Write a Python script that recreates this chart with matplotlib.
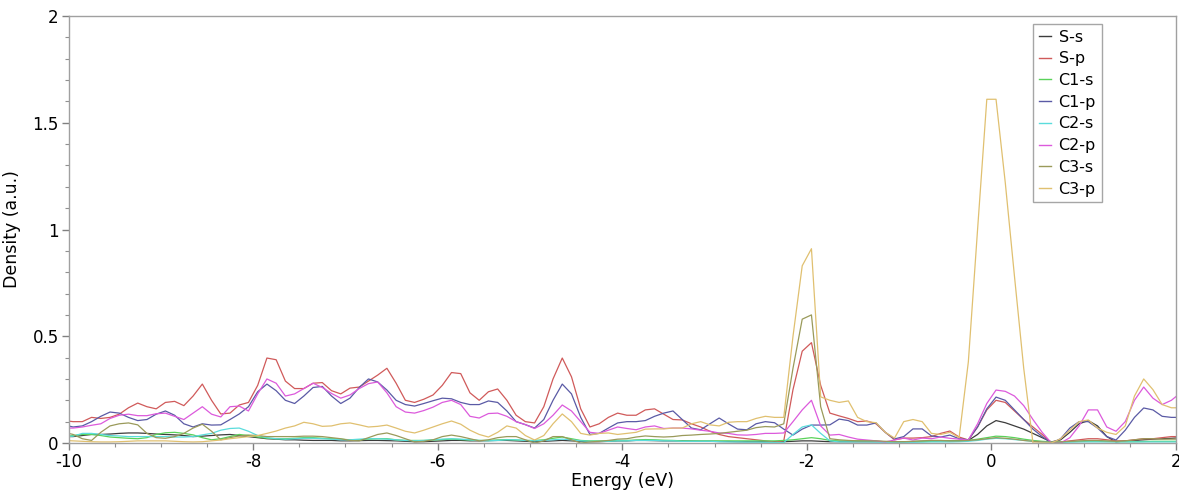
import numpy as np
import matplotlib
matplotlib.use("Agg")
import matplotlib.pyplot as plt
from matplotlib.ticker import MultipleLocator

# ---- data (energy grid: -10.05 .. 2.05 eV, step 0.1) ----
E_START, E_STEP, N_PTS = -10.05, 0.1, 122
energy = np.round(E_START + E_STEP * np.arange(N_PTS), 3)

s_s = [0.03, 0.03, 0.035, 0.04, 0.04, 0.042, 0.045, 0.047, 0.047, 0.045,
       0.042, 0.04, 0.038, 0.035, 0.03, 0.032, 0.035, 0.038, 0.04, 0.035,
       0.03, 0.025, 0.02, 0.018, 0.015, 0.015, 0.013, 0.012, 0.012, 0.012,
       0.01, 0.01, 0.011, 0.012, 0.012, 0.011, 0.01, 0.008, 0.006, 0.006,
       0.008, 0.01, 0.012, 0.012, 0.01, 0.01, 0.011, 0.012, 0.012, 0.01,
       0.008, 0.006, 0.008, 0.01, 0.012, 0.01, 0.008, 0.006, 0.006, 0.008,
       0.01, 0.01, 0.012, 0.012, 0.011, 0.01, 0.01, 0.01, 0.009, 0.008,
       0.008, 0.007, 0.007, 0.006, 0.006, 0.006, 0.006, 0.006, 0.006, 0.008,
       0.01, 0.01, 0.008, 0.006, 0.006, 0.006, 0.006, 0.006, 0.006, 0.006,
       0.006, 0.006, 0.007, 0.008, 0.009, 0.01, 0.01, 0.01, 0.012, 0.04,
       0.08, 0.105, 0.095, 0.08, 0.065, 0.045, 0.025, 0.005, 0.015, 0.05,
       0.09, 0.105, 0.08, 0.03, 0.005, 0.01, 0.012, 0.015, 0.018, 0.02,
       0.022, 0.025]

s_p = [0.105, 0.10, 0.10, 0.12, 0.115, 0.12, 0.135, 0.165, 0.187, 0.17,
       0.16, 0.19, 0.195, 0.175, 0.22, 0.276, 0.2, 0.136, 0.14, 0.178,
       0.19, 0.27, 0.398, 0.39, 0.29, 0.255, 0.255, 0.28, 0.283, 0.245,
       0.23, 0.257, 0.262, 0.29, 0.318, 0.35, 0.28, 0.2, 0.19, 0.205,
       0.225, 0.27, 0.33, 0.325, 0.235, 0.2, 0.24, 0.253, 0.2, 0.13,
       0.1, 0.094, 0.17, 0.30, 0.398, 0.31, 0.16, 0.075, 0.09, 0.12,
       0.14, 0.13, 0.13, 0.155, 0.16, 0.135, 0.11, 0.108, 0.09, 0.075,
       0.055, 0.04, 0.03, 0.025, 0.02, 0.015, 0.01, 0.005, 0.01, 0.25,
       0.43, 0.47, 0.27, 0.14, 0.127, 0.115, 0.10, 0.103, 0.09, 0.05,
       0.015, 0.023, 0.023, 0.025, 0.03, 0.045, 0.056, 0.028, 0.014, 0.075,
       0.155, 0.2, 0.19, 0.15, 0.11, 0.075, 0.04, 0.0, 0.005, 0.01,
       0.015, 0.02, 0.02, 0.015, 0.01, 0.01, 0.015, 0.02, 0.02, 0.025,
       0.03, 0.03]

c1_s = [0.03, 0.035, 0.04, 0.04, 0.035, 0.028, 0.025, 0.022, 0.02, 0.025,
        0.04, 0.048, 0.05, 0.045, 0.038, 0.025, 0.015, 0.02, 0.03, 0.04,
        0.035, 0.028, 0.022, 0.02, 0.02, 0.022, 0.025, 0.025, 0.022, 0.02,
        0.018, 0.015, 0.015, 0.018, 0.02, 0.02, 0.015, 0.012, 0.012, 0.012,
        0.014, 0.016, 0.018, 0.016, 0.014, 0.012, 0.012, 0.014, 0.016, 0.014,
        0.012, 0.012, 0.015, 0.022, 0.028, 0.02, 0.012, 0.01, 0.01, 0.01,
        0.012, 0.012, 0.014, 0.016, 0.015, 0.013, 0.012, 0.01, 0.01, 0.01,
        0.01, 0.01, 0.01, 0.01, 0.01, 0.01, 0.01, 0.01, 0.012, 0.015,
        0.02, 0.025, 0.02, 0.012, 0.01, 0.01, 0.01, 0.01, 0.008, 0.006,
        0.005, 0.005, 0.006, 0.007, 0.008, 0.01, 0.01, 0.01, 0.012, 0.018,
        0.025, 0.032, 0.03, 0.025, 0.018, 0.012, 0.008, 0.005, 0.005, 0.006,
        0.007, 0.008, 0.008, 0.007, 0.006, 0.006, 0.006, 0.007, 0.008, 0.008,
        0.008, 0.008]

c1_p = [0.085, 0.075, 0.08, 0.1, 0.125, 0.145, 0.14, 0.12, 0.105, 0.11,
        0.135, 0.15, 0.13, 0.09, 0.075, 0.09, 0.084, 0.085, 0.11, 0.136,
        0.17, 0.24, 0.276, 0.245, 0.2, 0.185, 0.22, 0.26, 0.265, 0.22,
        0.185, 0.21, 0.26, 0.3, 0.286, 0.248, 0.2, 0.18, 0.173, 0.185,
        0.198, 0.21, 0.207, 0.19, 0.18, 0.18, 0.197, 0.19, 0.15, 0.1,
        0.086, 0.07, 0.11, 0.2, 0.276, 0.23, 0.12, 0.04, 0.045, 0.07,
        0.094, 0.1, 0.1, 0.105, 0.125, 0.14, 0.15, 0.11, 0.07, 0.062,
        0.09, 0.117, 0.09, 0.065, 0.062, 0.09, 0.1, 0.095, 0.065, 0.037,
        0.065, 0.084, 0.084, 0.085, 0.112, 0.105, 0.084, 0.084, 0.094, 0.05,
        0.019, 0.03, 0.066, 0.066, 0.033, 0.028, 0.037, 0.02, 0.015, 0.075,
        0.16, 0.215, 0.2, 0.155, 0.11, 0.065, 0.03, 0.0, 0.02, 0.07,
        0.1, 0.1, 0.07, 0.03, 0.014, 0.06, 0.12, 0.164, 0.155, 0.125,
        0.12, 0.12]

c2_s = [0.03, 0.032, 0.045, 0.045, 0.04, 0.035, 0.033, 0.03, 0.03, 0.03,
        0.03, 0.03, 0.028, 0.028, 0.03, 0.038, 0.045, 0.06, 0.068, 0.07,
        0.055, 0.035, 0.025, 0.02, 0.018, 0.02, 0.022, 0.022, 0.02, 0.018,
        0.015, 0.015, 0.018, 0.02, 0.02, 0.018, 0.015, 0.012, 0.01, 0.012,
        0.015, 0.018, 0.02, 0.018, 0.015, 0.012, 0.01, 0.012, 0.015, 0.015,
        0.012, 0.01, 0.012, 0.015, 0.018, 0.015, 0.01, 0.008, 0.008, 0.008,
        0.01, 0.01, 0.012, 0.012, 0.012, 0.01, 0.01, 0.008, 0.008, 0.008,
        0.008, 0.006, 0.005, 0.005, 0.004, 0.004, 0.003, 0.002, 0.002, 0.04,
        0.075, 0.085, 0.045, 0.01, 0.005, 0.005, 0.005, 0.005, 0.004, 0.003,
        0.003, 0.003, 0.003, 0.004, 0.005, 0.005, 0.005, 0.006, 0.008, 0.012,
        0.018, 0.022, 0.02, 0.016, 0.012, 0.008, 0.005, 0.003, 0.003, 0.004,
        0.005, 0.005, 0.005, 0.005, 0.005, 0.005, 0.005, 0.005, 0.005, 0.005,
        0.005, 0.005]

c2_p = [0.07, 0.07, 0.075, 0.083, 0.09, 0.115, 0.13, 0.135, 0.128, 0.128,
        0.137, 0.14, 0.125, 0.11, 0.14, 0.17, 0.135, 0.122, 0.17, 0.173,
        0.15, 0.23, 0.3, 0.28, 0.22, 0.23, 0.255, 0.28, 0.26, 0.232,
        0.21, 0.225, 0.255, 0.278, 0.286, 0.235, 0.17, 0.145, 0.14, 0.152,
        0.168, 0.19, 0.2, 0.18, 0.125, 0.117, 0.138, 0.14, 0.125, 0.1,
        0.086, 0.068, 0.09, 0.13, 0.178, 0.15, 0.1, 0.05, 0.045, 0.06,
        0.075, 0.068, 0.062, 0.075, 0.08, 0.068, 0.07, 0.07, 0.066, 0.06,
        0.055, 0.047, 0.045, 0.038, 0.037, 0.04, 0.045, 0.045, 0.047, 0.1,
        0.155, 0.2, 0.08, 0.037, 0.04, 0.028, 0.018, 0.014, 0.01, 0.005,
        0.014, 0.023, 0.014, 0.023, 0.02, 0.028, 0.022, 0.018, 0.014, 0.09,
        0.185, 0.248, 0.242, 0.22, 0.175, 0.11, 0.05, 0.0, 0.0, 0.025,
        0.08, 0.155, 0.155, 0.075, 0.055, 0.1, 0.2, 0.262, 0.21, 0.18,
        0.2, 0.235]

c3_s = [0.05, 0.04, 0.02, 0.012, 0.05, 0.08, 0.09, 0.094, 0.085, 0.045,
        0.025, 0.022, 0.03, 0.045, 0.07, 0.088, 0.055, 0.015, 0.025, 0.033,
        0.037, 0.035, 0.03, 0.03, 0.03, 0.03, 0.032, 0.032, 0.03, 0.025,
        0.02, 0.012, 0.01, 0.025, 0.04, 0.047, 0.035, 0.02, 0.005, 0.008,
        0.015, 0.03, 0.037, 0.03, 0.02, 0.01, 0.015, 0.025, 0.03, 0.03,
        0.015, 0.0, 0.01, 0.03, 0.03, 0.015, 0.0, 0.005, 0.008, 0.012,
        0.018, 0.02, 0.028, 0.033, 0.03, 0.028, 0.03, 0.035, 0.037, 0.04,
        0.042, 0.045, 0.05, 0.055, 0.06, 0.072, 0.077, 0.075, 0.09, 0.35,
        0.58, 0.60, 0.17, 0.02, 0.015, 0.012, 0.01, 0.01, 0.01, 0.008,
        0.006, 0.006, 0.008, 0.01, 0.012, 0.012, 0.01, 0.01, 0.012, 0.015,
        0.02, 0.025, 0.022, 0.018, 0.012, 0.008, 0.005, 0.004, 0.005, 0.008,
        0.01, 0.012, 0.012, 0.01, 0.008, 0.01, 0.015, 0.02, 0.02, 0.018,
        0.018, 0.018]

c3_p = [0.012, 0.01, 0.008, 0.006, 0.005, 0.005, 0.006, 0.008, 0.01, 0.01,
        0.01, 0.01, 0.008, 0.006, 0.005, 0.006, 0.01, 0.014, 0.02, 0.025,
        0.03, 0.035, 0.045, 0.056, 0.07, 0.08, 0.097, 0.09, 0.078, 0.08,
        0.09, 0.094, 0.085, 0.075, 0.078, 0.084, 0.07, 0.055, 0.047, 0.06,
        0.075, 0.09, 0.103, 0.088, 0.06, 0.04, 0.028, 0.05, 0.08, 0.07,
        0.035, 0.014, 0.035, 0.09, 0.136, 0.1, 0.045, 0.037, 0.045, 0.047,
        0.04, 0.045, 0.05, 0.065, 0.066, 0.066, 0.07, 0.07, 0.09, 0.1,
        0.085, 0.08, 0.097, 0.1, 0.1, 0.115, 0.125, 0.12, 0.12, 0.5,
        0.83, 0.91, 0.216, 0.2, 0.19, 0.197, 0.12, 0.1, 0.095, 0.05,
        0.023, 0.1, 0.11, 0.1, 0.045, 0.04, 0.05, 0.025, 0.38, 1.0,
        1.61, 1.61, 1.22, 0.78, 0.35, 0.0, 0.0, 0.0, 0.02, 0.06,
        0.1, 0.108, 0.07, 0.05, 0.04, 0.08, 0.22, 0.3, 0.25, 0.18,
        0.165, 0.165]

labels = ["S-s", "S-p", "C1-s", "C1-p", "C2-s", "C2-p", "C3-s", "C3-p"]
series = [s_s, s_p, c1_s, c1_p, c2_s, c2_p, c3_s, c3_p]
colors = ["#3c3c3c", "#d05a5a", "#5ad25a", "#5a5aa5", "#5adcdc", "#dc5adc", "#9a9a5a", "#e0c070"]

x_ticks = [-10, -8, -6, -4, -2, 0, 2]
x_ticklabels = ["-10", "-8", "-6", "-4", "-2", "0", "2"]
y_ticks = [0, 0.5, 1, 1.5, 2]
y_ticklabels = ["0", "0.5", "1", "1.5", "2"]

# ---- figure ----
plt.rcParams['font.family'] = ['DejaVu Sans']
fig = plt.figure(figsize=(11.79, 4.90), dpi=100)
ax = fig.add_axes([68.5 / 1179, 1 - 443 / 490, (1176 - 68.5) / 1179, (443 - 16) / 490])

for lab, vals, col in zip(labels, series, colors):
    ax.plot(energy, np.asarray(vals), color=col, lw=0.9, label=lab)

ax.set_xlim(-10, 2)
ax.set_ylim(0, 2)
ax.set_xticks(x_ticks)
ax.set_xticklabels(x_ticklabels)
ax.set_yticks(y_ticks)
ax.set_yticklabels(y_ticklabels)
ax.xaxis.set_minor_locator(MultipleLocator(0.5))
ax.yaxis.set_minor_locator(MultipleLocator(0.1))

spine_col = "#a0a0a0"
for s in ax.spines.values():
    s.set_color(spine_col)
    s.set_linewidth(1.0)
ax.tick_params(axis="both", which="major", direction="out", length=5, width=1,
               color="#808080", labelsize=12, labelcolor="black", pad=2)
ax.tick_params(axis="both", which="minor", direction="out", length=3, width=0.8,
               color="#909090")

ax.set_xlabel("Energy (eV)", fontsize=12.5, labelpad=1)
ax.set_ylabel("Density (a.u.)", fontsize=12.5, labelpad=8)

leg = ax.legend(loc="upper left", bbox_to_anchor=(1033 / 1179, 1 - 24 / 490),
                bbox_transform=fig.transFigure, fontsize=11.5, frameon=True,
                fancybox=False, handlelength=0.8, handletextpad=0.45,
                labelspacing=0.42, borderpad=0.35, borderaxespad=0)
leg.get_frame().set_edgecolor("#909090")
leg.get_frame().set_linewidth(1.0)
for h in leg.get_lines():
    h.set_linewidth(1.0)

fig.savefig("out.png", dpi=100)
